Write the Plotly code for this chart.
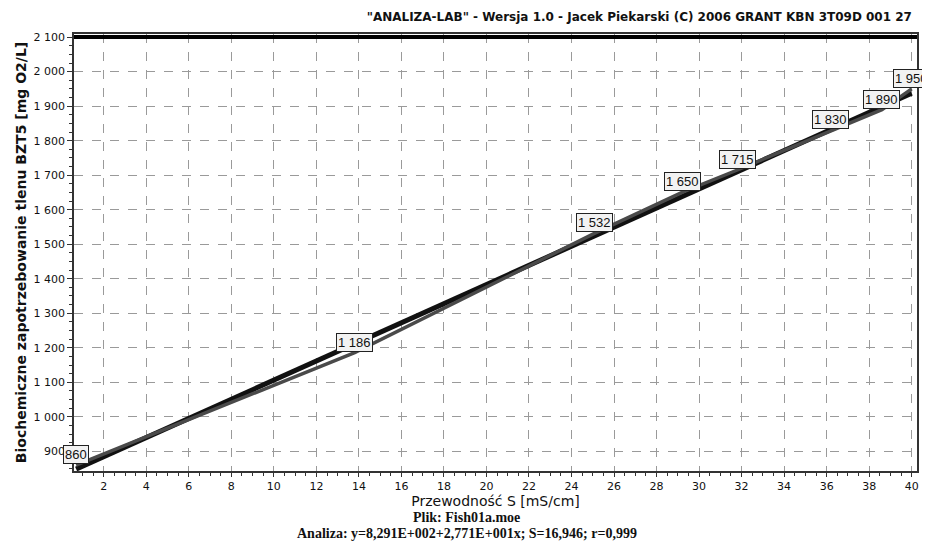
import plotly.graph_objects as go

# ---- data ----
conductivity = [0.7, 13.8, 25.1, 29.2, 31.8, 36.2, 38.6, 40.0]      # mS/cm
bod5 = [860, 1186, 1532, 1650, 1715, 1830, 1890, 1950]               # mg O2/L
fit_a = 829.1     # intercept  (8,291E+002)
fit_b = 27.71     # slope      (2,771E+001)
ref_level = 2100

x_ticks = list(range(2, 41, 2))
y_ticks = list(range(900, 2101, 100))

fit_x = [min(conductivity), max(conductivity)]
fit_y = [fit_a + fit_b * v for v in fit_x]

def fmt(v):
    return f"{v:,}".replace(",", " ")

fig = go.Figure()
fig.add_trace(go.Scatter(x=[0.6, 40.25], y=[ref_level, ref_level], mode="lines",
                         line=dict(color="#000000", width=4), hoverinfo="skip"))
fig.add_trace(go.Scatter(x=fit_x, y=fit_y, mode="lines",
                         line=dict(color="#111111", width=5)))
fig.add_trace(go.Scatter(x=conductivity, y=bod5, mode="lines",
                         line=dict(color="#4a4a4a", width=3.5)))

for xv, yv in zip(conductivity, bod5):
    fig.add_annotation(x=xv, y=yv, text=fmt(yv), showarrow=False,
                       yanchor="bottom", xanchor="center", yshift=1,
                       font=dict(family="Liberation Sans, Arial", size=13, color="#111"),
                       bgcolor="#f2f2f2", bordercolor="#222", borderwidth=1, borderpad=1)

fig.add_annotation(xref="paper", yref="paper", x=0.466, y=-0.107, showarrow=False,
                   yanchor="middle", xanchor="center",
                   text="<b>Plik: Fish01a.moe</b>",
                   font=dict(family="Liberation Serif, serif", size=14, color="#111"))
fig.add_annotation(xref="paper", yref="paper", x=0.466, y=-0.144, showarrow=False,
                   yanchor="middle", xanchor="center",
                   text="<b>Analiza: y=8,291E+002+2,771E+001x; S=16,946; r=0,999</b>",
                   font=dict(family="Liberation Serif, serif", size=14, color="#111"))

axis_common = dict(showline=True, linecolor="#333", linewidth=1.5, mirror=True,
                   ticks="outside", tickcolor="#333",
                   showgrid=True, gridcolor="#9a9a9a", griddash="dash", gridwidth=1,
                   zeroline=False,
                   tickfont=dict(family="DejaVu Sans, Verdana", size=11, color="#111"))

fig.update_xaxes(range=[0.6, 40.25], tickvals=x_ticks, ticklen=4, **axis_common,
                 minor=dict(dtick=0.5, tick0=0, ticks="outside", ticklen=3,
                            tickcolor="#333", showgrid=False),
                 title=dict(text="Przewodność S [mS/cm]", standoff=0,
                            font=dict(family="DejaVu Sans, Verdana", size=14, color="#111")))
fig.update_yaxes(range=[843, 2109], tickvals=y_ticks, tickformat=",d", ticklen=5,
                 **axis_common,
                 minor=dict(dtick=25, tick0=0, ticks="outside", ticklen=3,
                            tickcolor="#333", showgrid=False),
                 title=dict(text="<b>Biochemiczne zapotrzebowanie tlenu BZT5 [mg O2/L]</b>",
                            standoff=4,
                            font=dict(family="DejaVu Sans, Verdana", size=14, color="#111")))

fig.update_layout(
    width=930, height=554,
    margin=dict(l=63, r=21, t=26, b=91),
    paper_bgcolor="white", plot_bgcolor="white",
    showlegend=False,
    separators=", ",
    title=dict(text="<b>\"ANALIZA-LAB\" - Wersja 1.0 - Jacek Piekarski (C) 2006 GRANT KBN 3T09D 001 27</b>",
               x=0.972, xanchor="right", y=0.984, yanchor="middle",
               font=dict(family="DejaVu Sans, Verdana", size=12, color="#111")),
)

fig.write_html("out.html")
